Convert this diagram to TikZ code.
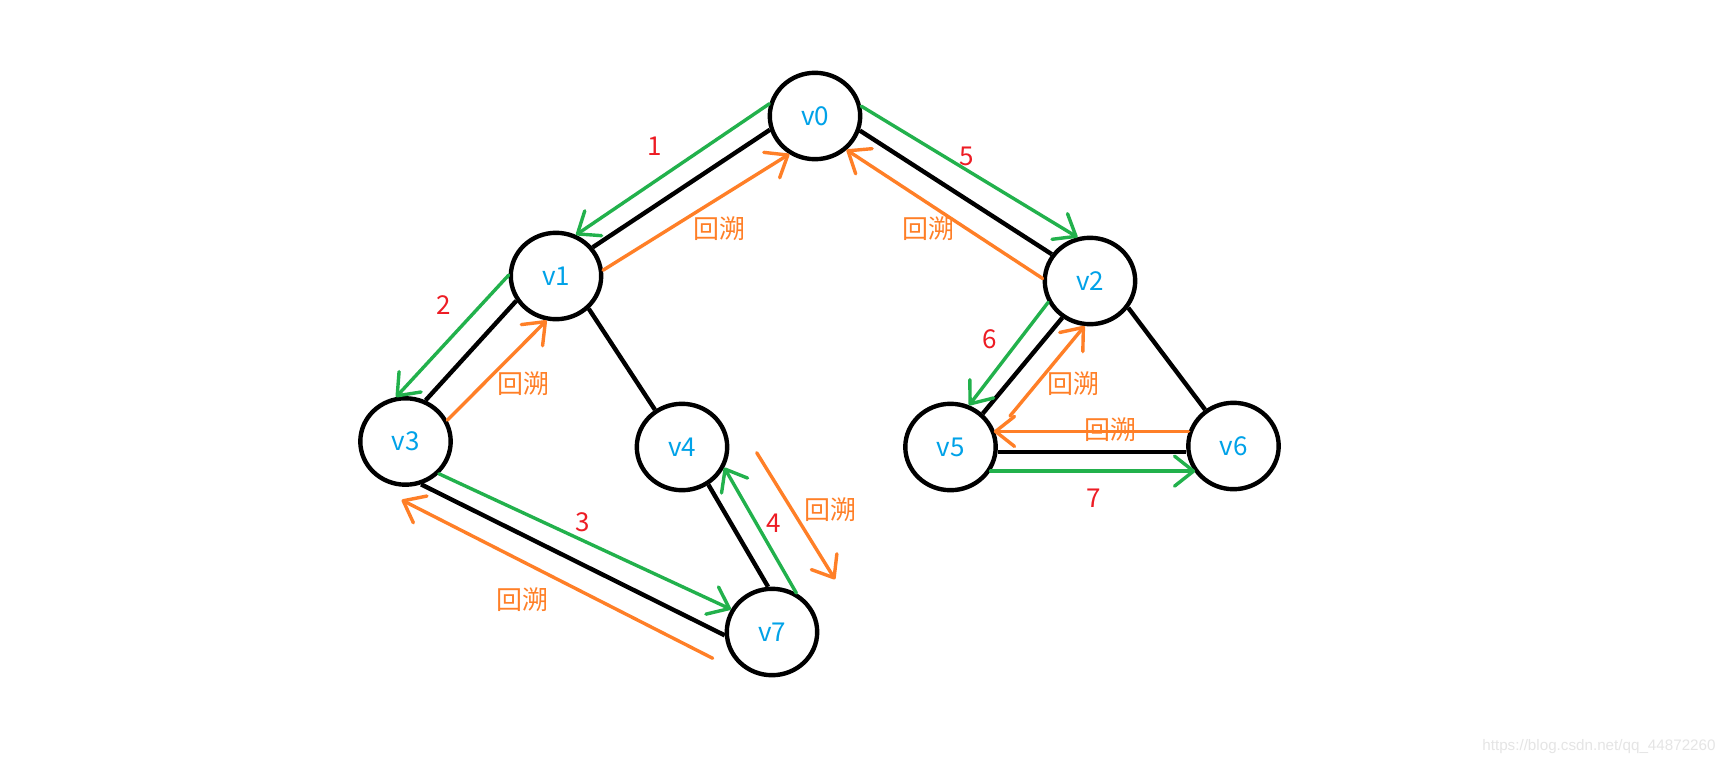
\documentclass[tikz,border=0pt]{standalone}
\usepackage{fontspec}
\setmainfont{Noto Sans CJK SC}
\newfontfamily\wmfont{Liberation Sans}
\usetikzlibrary{shapes.geometric,arrows.meta}
\definecolor{pblue}{HTML}{00A2E8}
\definecolor{pred}{HTML}{ED1C24}
\definecolor{pgreen}{HTML}{22B14C}
\definecolor{porange}{HTML}{FF7F27}
\begin{document}
\begin{tikzpicture}[x=0.5pt,y=-0.5pt,
  vtx/.style={ellipse,draw=black,line width=2.2pt,minimum width=45.2pt,minimum height=43.2pt,inner sep=0pt,text=pblue,font=\fontsize{13pt}{15pt}\selectfont},
  edge/.style={draw=black,line width=2.2pt},
  garr/.style={draw=pgreen,line width=1.7pt,line cap=round,-{Straight Barb[round,length=9.5pt,width=15pt]}},
  oarr/.style={draw=porange,line width=1.7pt,line cap=round,-{Straight Barb[round,length=9.5pt,width=15pt]}},
  num/.style={text=pred,font=\fontsize{13pt}{15pt}\selectfont,inner sep=0pt},
  bt/.style={text=porange,font=\fontsize{13pt}{15pt}\selectfont,inner sep=0pt}]
\fill[white] (0,0) rectangle (1726,766);
\useasboundingbox (0,0) rectangle (1726,766);
% vertices
\node[vtx] (v0) at (815,116) {v0};
\node[vtx] (v1) at (556,276) {v1};
\node[vtx] (v2) at (1090,281) {v2};
\node[vtx] (v3) at (405.5,441.5) {v3};
\node[vtx] (v4) at (682,447) {v4};
\node[vtx] (v5) at (950.5,447) {v5};
\node[vtx] (v6) at (1233.5,446) {v6};
\node[vtx] (v7) at (772,632) {v7};
% black edges
\draw[edge] (v0.197) -- (v1.38);
\draw[edge] (v0.342) -- (v2.145);
\draw[edge] (v1.212) -- (v3.64);
\draw[edge] (v1.315) -- (v4.126);
\draw[edge] (v3.290) -- (v7.184);
\draw[edge] (v4.305) -- (v7.95);
\draw[edge] (v2.233) -- (v5.46);
\draw[edge] (v2.325) -- (v6.128);
\draw[edge] (v5.354) -- (v5.354 -| v6.186);
% free ends
\coordinate (o3s) at (712.7,658.3);
\coordinate (o3t) at (401.7,500);
\coordinate (o4s) at (756.7,452.7);
\coordinate (o4t) at (835,579.3);
\coordinate (o6s) at (1010,416);
% green traversal arrows
\draw[garr] (v0.165) -- (v1.64);
\draw[garr] (v1.179) -- (v3.102);
\draw[garr] (v3.316) -- (v7.151);
\draw[garr] (v7.58) -- (v4.334);
\draw[garr] (v0.12) -- (v2.106);
\draw[garr] (v2.207) -- (v5.66);
\draw[garr] (v5.329) -- (v5.329 -| v6.215);
% orange backtrack arrows
\draw[oarr] (v1.7) -- (v0.236);
\draw[oarr] (v3.27) -- (v1.258);
\draw[oarr] (o3s) -- (o3t);
\draw[oarr] (o4s) -- (o4t);
\draw[oarr] (v2.177) -- (v0.313);
\draw[oarr] (o6s) -- (v2.263);
\draw[oarr] (v6.162) -- (v6.162 -| v5.23);
% step numbers
\node[num] (n1) at (654.3,146) {1};
\node[num] (n2) at (443.3,305) {2};
\node[num] (n3) at (582.7,522.7) {3};
\node[num] (n4) at (773.3,523.3) {4};
\node[num] (n5) at (966.7,156.7) {5};
\node[num] (n6) at (990,339.3) {6};
\node[num] (n7) at (1093.3,498.3) {7};
% backtrack labels
\node[bt] (b1) at (719.3,228.3) {回溯};
\node[bt] (b2) at (523.3,383.3) {回溯};
\node[bt] (b3) at (522.7,600) {回溯};
\node[bt] (b4) at (830,510) {回溯};
\node[bt] (b5) at (928.3,228.3) {回溯};
\node[bt] (b6) at (1073.3,383.3) {回溯};
\node[bt] (b7) at (1110,429.3) {回溯};
% watermark
\node[anchor=east,inner sep=0pt,text=black!10,font=\wmfont\fontsize{7.6pt}{9pt}\selectfont] (wm) at (1716,747) {https://blog.csdn.net/qq\_44872260};
\end{tikzpicture}
\end{document}
